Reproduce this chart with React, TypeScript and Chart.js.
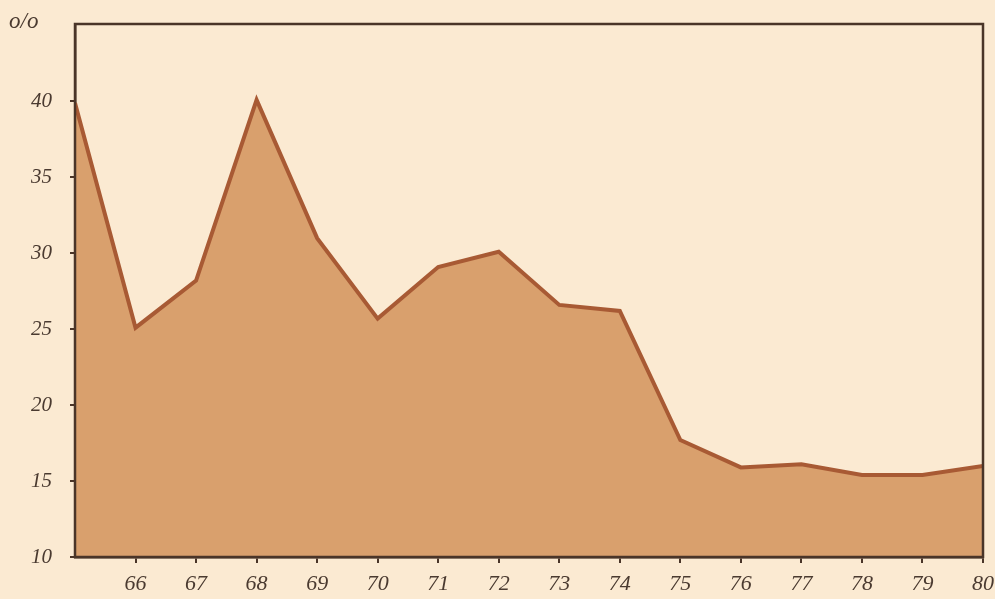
import React, { useEffect, useRef } from "react";
import { Chart, registerables } from "chart.js";

Chart.register(...registerables);

const years = [65, 66, 67, 68, 69, 70, 71, 72, 73, 74, 75, 76, 77, 78, 79, 80];
const values = [39.9, 25.1, 28.2, 40.1, 31.0, 25.7, 29.1, 30.1, 26.6, 26.2, 17.7, 15.9, 16.1, 15.4, 15.4, 16.0];
const yTicks = [10, 15, 20, 25, 30, 35, 40];
const xTickLabels = ["66", "67", "68", "69", "70", "71", "72", "73", "74", "75", "76", "77", "78", "79", "80"];
const unitLabel = "o/o";

const BG = "#fbead2";
const FILL = "#d9a06d";
const LINE = "#a85a34";
const AXIS = "#4a3528";
const TEXT = "#4a3a30";
const FONT = "'Liberation Serif', 'DejaVu Serif', serif";

export default function App() {
  const ref = useRef<HTMLCanvasElement | null>(null);

  useEffect(() => {
    document.body.style.margin = "0";
    document.body.style.background = BG;
    const ctx = ref.current!;
    const framePlugin = {
      id: "frame",
      beforeDraw(chart: any) {
        const c = chart.ctx;
        c.save();
        c.fillStyle = BG;
        c.fillRect(0, 0, chart.width, chart.height);
        c.restore();
      },
      afterDraw(chart: any) {
        const { left, right, top, bottom } = chart.chartArea;
        const c = chart.ctx;
        c.save();
        c.strokeStyle = AXIS;
        c.lineWidth = 2.5;
        c.strokeRect(left, top, right - left, bottom - top);
        c.fillStyle = TEXT;
        c.font = "italic 23px " + FONT;
        c.textBaseline = "middle";
        c.textAlign = "left";
        c.fillText(unitLabel, 9, 22);
        c.restore();
      },
    };

    const chart = new Chart(ctx, {
      type: "line",
      data: {
        datasets: [
          {
            data: years.map((x, i) => ({ x, y: values[i] })),
            borderColor: LINE,
            backgroundColor: FILL,
            borderWidth: 4,
            fill: "origin",
            tension: 0,
            pointRadius: 0,
            pointHoverRadius: 0,
          },
        ],
      },
      options: {
        animation: false,
        responsive: false,
        devicePixelRatio: 1,
        layout: { autoPadding: false, padding: { top: 24, right: 12, left: 0, bottom: 0 } },
        plugins: { legend: { display: false }, tooltip: { enabled: false } },
        scales: {
          x: {
            type: "linear",
            min: 65,
            max: 80,
            afterBuildTicks: (s: any) => {
              s.ticks = xTickLabels.map((l) => ({ value: Number(l) }));
            },
            afterFit: (s: any) => {
              s.height = 42;
              s.paddingLeft = 0;
              s.paddingRight = 0;
            },
            ticks: {
              color: TEXT,
              font: { family: FONT, size: 22, style: "italic" },
              padding: 8,
              maxRotation: 0,
              autoSkip: false,
              callback: (v: any) => String(v),
            },
            grid: { drawOnChartArea: false, color: AXIS, tickLength: 6, lineWidth: 2 },
            border: { display: true, color: AXIS, width: 2.5 },
          },
          y: {
            min: 10,
            max: 45.1,
            afterBuildTicks: (s: any) => {
              s.ticks = yTicks.map((v) => ({ value: v }));
            },
            afterFit: (s: any) => {
              s.width = 75;
              s.paddingTop = 0;
              s.paddingBottom = 0;
            },
            ticks: {
              color: TEXT,
              font: { family: FONT, size: 21, style: "italic" },
              padding: 18,
              callback: (v: any) => String(v),
            },
            grid: { drawOnChartArea: false, color: AXIS, tickLength: 5, lineWidth: 2 },
            border: { display: true, color: AXIS, width: 2.5 },
          },
        },
      },
      plugins: [framePlugin],
    });
    return () => chart.destroy();
  }, []);

  return (
    <div style={{ position: "absolute", left: 0, top: 0, width: 995, height: 599, background: BG }}>
      <canvas ref={ref} width={995} height={599} style={{ width: 995, height: 599, display: "block" }} />
    </div>
  );
}
